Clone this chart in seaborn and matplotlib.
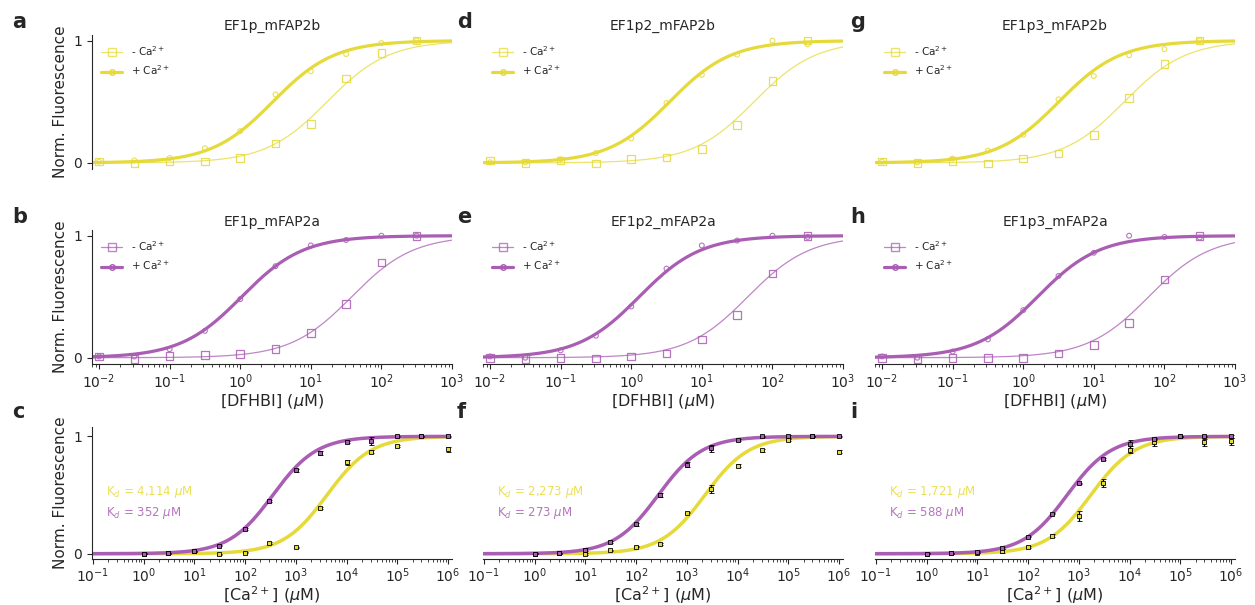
import numpy as np
import pandas as pd
import matplotlib
matplotlib.use('Agg')
import matplotlib.pyplot as plt
import seaborn as sns
from matplotlib.lines import Line2D
from matplotlib.ticker import LogLocator, NullFormatter

sns.set_style('ticks')
plt.rcParams['font.family'] = ['DejaVu Sans']
plt.rcParams['xtick.major.size'] = 3.5
plt.rcParams['xtick.minor.size'] = 2
plt.rcParams['ytick.major.size'] = 3.5
plt.rcParams['xtick.major.pad'] = 2.5
plt.rcParams['axes.linewidth'] = 0.8

# colores
amarillo = '#E6DA3A'
morado = '#A95DB3'

# titulaciones con DFHBI (uM)
dfhbi = [0.01, 0.0316, 0.1, 0.316, 1, 3.16, 10, 31.6, 100, 316]

# mFAP2b (fila de arriba) - Ca / + Ca
a_menos = [0.01, -0.005, 0.01, 0.01, 0.04, 0.16, 0.32, 0.69, 0.90, 1.0]
a_mas = [0.01, 0.02, 0.04, 0.12, 0.26, 0.56, 0.75, 0.89, 0.98, 1.0]
d_menos = [0.02, 0.0, 0.02, -0.005, 0.03, 0.045, 0.115, 0.31, 0.67, 1.0]
d_mas = [0.005, 0.005, 0.03, 0.08, 0.20, 0.49, 0.72, 0.885, 1.0, 0.97]
g_menos = [0.01, 0.0, 0.015, -0.005, 0.035, 0.077, 0.23, 0.53, 0.81, 1.0]
g_mas = [0.01, 0.005, 0.035, 0.10, 0.23, 0.52, 0.71, 0.88, 0.93, 1.0]

# mFAP2a (fila del medio)
b_menos = [0.01, -0.01, 0.015, 0.02, 0.03, 0.07, 0.20, 0.44, 0.78, 1.0]
b_mas = [0.01, 0.01, 0.07, 0.22, 0.48, 0.75, 0.92, 0.965, 1.0, 1.0]
e_menos = [0.0, -0.01, 0.0, -0.005, 0.01, 0.035, 0.15, 0.35, 0.69, 1.0]
e_mas = [0.01, 0.0, 0.06, 0.18, 0.42, 0.73, 0.92, 0.96, 1.0, 0.99]
h_menos = [0.0, -0.01, 0.0, 0.0, 0.0, 0.035, 0.105, 0.285, 0.64, 1.0]
h_mas = [0.01, 0.0, 0.05, 0.15, 0.39, 0.67, 0.86, 1.0, 0.99, 0.985]

# EC50 de los ajustes (uM), Hill n = 1
ec50_menos = {'a': 17, 'd': 55, 'g': 27, 'b': 38, 'e': 45, 'h': 60}
ec50_mas = {'a': 2.9, 'd': 3.5, 'g': 3.2, 'b': 1.05, 'e': 1.3, 'h': 1.6}

# titulaciones con Ca2+ (uM)
calcio = [1, 3, 10, 30, 100, 300, 1e3, 3e3, 1e4, 3e4, 1e5, 3e5, 1e6]

c_2b = [0.0, 0.003, 0.02, -0.005, 0.01, 0.09, 0.055, 0.39, 0.78, 0.87, 0.92, 1.0, 0.89]
c_2b_err = [0.005, 0.005, 0.005, 0.005, 0.005, 0.01, 0.005, 0.01, 0.02, 0.015, 0.01, 0.005, 0.02]
c_2a = [0.0, 0.003, 0.02, 0.07, 0.21, 0.45, 0.71, 0.86, 0.95, 0.96, 1.0, 1.0, 1.0]
c_2a_err = [0.005, 0.005, 0.005, 0.005, 0.01, 0.01, 0.01, 0.015, 0.01, 0.035, 0.005, 0.005, 0.005]

f_2b = [0.0, 0.005, 0.0, 0.03, 0.06, 0.085, 0.35, 0.55, 0.75, 0.88, 0.97, 1.0, 0.87]
f_2b_err = [0.005, 0.005, 0.01, 0.005, 0.005, 0.01, 0.005, 0.035, 0.015, 0.01, 0.01, 0.005, 0.01]
f_2a = [0.0, 0.005, 0.035, 0.10, 0.25, 0.50, 0.76, 0.90, 0.97, 1.0, 1.0, 1.0, 1.0]
f_2a_err = [0.005, 0.005, 0.015, 0.01, 0.01, 0.015, 0.02, 0.03, 0.01, 0.005, 0.01, 0.005, 0.005]

i_2b = [0.0, 0.003, 0.01, 0.025, 0.06, 0.155, 0.32, 0.60, 0.885, 0.95, 1.0, 0.95, 0.96]
i_2b_err = [0.005, 0.005, 0.005, 0.015, 0.01, 0.015, 0.045, 0.035, 0.03, 0.03, 0.005, 0.03, 0.03]
i_2a = [0.0, 0.003, 0.015, 0.05, 0.145, 0.34, 0.60, 0.81, 0.935, 0.98, 1.0, 1.0, 1.0]
i_2a_err = [0.005, 0.005, 0.005, 0.01, 0.005, 0.005, 0.005, 0.01, 0.03, 0.01, 0.005, 0.005, 0.01]

kd_2b = {'c': 4114, 'f': 2273, 'i': 1721}
kd_2a = {'c': 352, 'f': 273, 'i': 588}

titulos = {'a': 'EF1p_mFAP2b', 'd': 'EF1p2_mFAP2b', 'g': 'EF1p3_mFAP2b',
           'b': 'EF1p_mFAP2a', 'e': 'EF1p2_mFAP2a', 'h': 'EF1p3_mFAP2a'}


def hill(x, k, n=1.0):
    return x**n / (k**n + x**n)


fig = plt.figure(figsize=(12.55, 6.05), dpi=100)

W, H = 1255, 605
col_x = [92, 483, 875]
ancho = 360
filas = [(34.5, 169), (229.6, 363.8), (427, 559)]


def nuevo_ax(col, fila):
    top, bot = filas[fila]
    return fig.add_axes([col_x[col] / W, 1 - bot / H, ancho / W, (bot - top) / H])


def ejes_log(ax, lo, hi):
    ax.set_xscale('log')
    ax.set_xlim(lo, hi)
    ax.xaxis.set_major_locator(LogLocator(base=10, numticks=20))
    ax.xaxis.set_minor_locator(LogLocator(base=10, subs=np.arange(2, 10), numticks=20))
    ax.xaxis.set_minor_formatter(NullFormatter())
    ax.tick_params(axis='both', labelsize=10)


paneles_dfhbi = [
    ('a', 0, 0, a_menos, a_mas, amarillo),
    ('d', 1, 0, d_menos, d_mas, amarillo),
    ('g', 2, 0, g_menos, g_mas, amarillo),
    ('b', 0, 1, b_menos, b_mas, morado),
    ('e', 1, 1, e_menos, e_mas, morado),
    ('h', 2, 1, h_menos, h_mas, morado),
]

xlo, xhi = 10**-2.1, 1e3
xs = np.logspace(np.log10(xlo), np.log10(xhi), 300)

for letra, col, fila, menos, mas, color in paneles_dfhbi:
    ax = nuevo_ax(col, fila)
    ejes_log(ax, xlo, xhi)

    curvas = pd.DataFrame({'x': xs,
                           'menos': hill(xs, ec50_menos[letra]),
                           'mas': hill(xs, ec50_mas[letra])})
    sns.lineplot(data=curvas, x='x', y='menos', ax=ax, color=color, lw=0.9, alpha=0.75)
    sns.lineplot(data=curvas, x='x', y='mas', ax=ax, color=color, lw=2.3)
    ax.scatter(dfhbi, menos, marker='s', s=30, facecolors='none', edgecolors=color,
               linewidths=0.9, alpha=0.85, zorder=3)
    ax.scatter(dfhbi, mas, marker='o', s=12, facecolors='none', edgecolors=color,
               linewidths=0.8, alpha=0.85, zorder=3)

    ax.set_ylim(-0.05, 1.05)
    ax.set_yticks([0, 1])
    ax.set_title(titulos[letra], fontsize=10, pad=3)

    handles = [Line2D([], [], color=color, lw=0.9, alpha=0.75, marker='s', ms=5.5, mfc='none'),
               Line2D([], [], color=color, lw=2.3, marker='o', ms=4, mfc='none')]
    ax.legend(handles, ['- Ca$^{2+}$', '+ Ca$^{2+}$'], loc='upper left', frameon=False,
              fontsize=7.5, labelspacing=0.55, handlelength=2.0)

    sns.despine(ax=ax)
    if fila == 0:
        ax.spines['bottom'].set_visible(False)
        ax.tick_params(axis='x', which='both', bottom=False, labelbottom=False)
        ax.set_xlabel('')
    else:
        ax.set_xlabel('[DFHBI] ($\\mu$M)', fontsize=11.5, labelpad=1)
    if col == 0:
        ax.set_ylabel('Norm. Fluorescence', fontsize=11)
    else:
        ax.set_ylabel('')
        ax.spines['left'].set_visible(False)
        ax.tick_params(axis='y', which='both', left=False, labelleft=False)

# paneles de calcio
paneles_ca = [
    ('c', 0, c_2b, c_2b_err, c_2a, c_2a_err),
    ('f', 1, f_2b, f_2b_err, f_2a, f_2a_err),
    ('i', 2, i_2b, i_2b_err, i_2a, i_2a_err),
]

clo, chi = 10**-1.02, 10**6.08
xc = np.logspace(np.log10(clo), 6, 300)

for letra, col, y2b, e2b, y2a, e2a in paneles_ca:
    ax = nuevo_ax(col, 2)
    ejes_log(ax, clo, chi)
    ax.tick_params(axis='x', which='major', pad=1.5)

    curvas = pd.DataFrame({'x': xc, 'b': hill(xc, kd_2b[letra]), 'a': hill(xc, kd_2a[letra])})
    sns.lineplot(data=curvas, x='x', y='b', ax=ax, color=amarillo, lw=2.5)
    sns.lineplot(data=curvas, x='x', y='a', ax=ax, color=morado, lw=2.5)

    for yy, ee, color in [(y2b, e2b, amarillo), (y2a, e2a, morado)]:
        ax.errorbar(calcio, yy, yerr=ee, fmt='s', ms=2.5, mfc=color, mec='black', mew=0.6,
                    ecolor='black', elinewidth=0.9, capsize=1.8, capthick=0.9, zorder=4)

    ax.text(0.04, 0.51, f'K$_d$ = {kd_2b[letra]:,} $\\mu$M', transform=ax.transAxes,
            color=amarillo, fontsize=8.5, va='center', alpha=0.85)
    ax.text(0.04, 0.35, f'K$_d$ = {kd_2a[letra]:,} $\\mu$M', transform=ax.transAxes,
            color=morado, fontsize=8.5, va='center', alpha=0.85)

    ax.set_ylim(-0.045, 1.08)
    ax.set_yticks([0, 1])
    ax.set_xlabel('[Ca$^{2+}$] ($\\mu$M)', fontsize=11.5, labelpad=0)
    sns.despine(ax=ax)
    if col == 0:
        ax.set_ylabel('Norm. Fluorescence', fontsize=11)
    else:
        ax.set_ylabel('')
        ax.spines['left'].set_visible(False)
        ax.tick_params(axis='y', which='both', left=False, labelleft=False)

# letras de los paneles
letras_x = [12, 457, 850]
letras_y = [28, 223, 418]
for ci, col_letras in enumerate(['abc', 'def', 'ghi']):
    for fi, l in enumerate(col_letras):
        fig.text(letras_x[ci] / W, 1 - letras_y[fi] / H, l, fontsize=15,
                 fontweight='bold', va='baseline', ha='left')

fig.savefig('out.png', dpi=100)
